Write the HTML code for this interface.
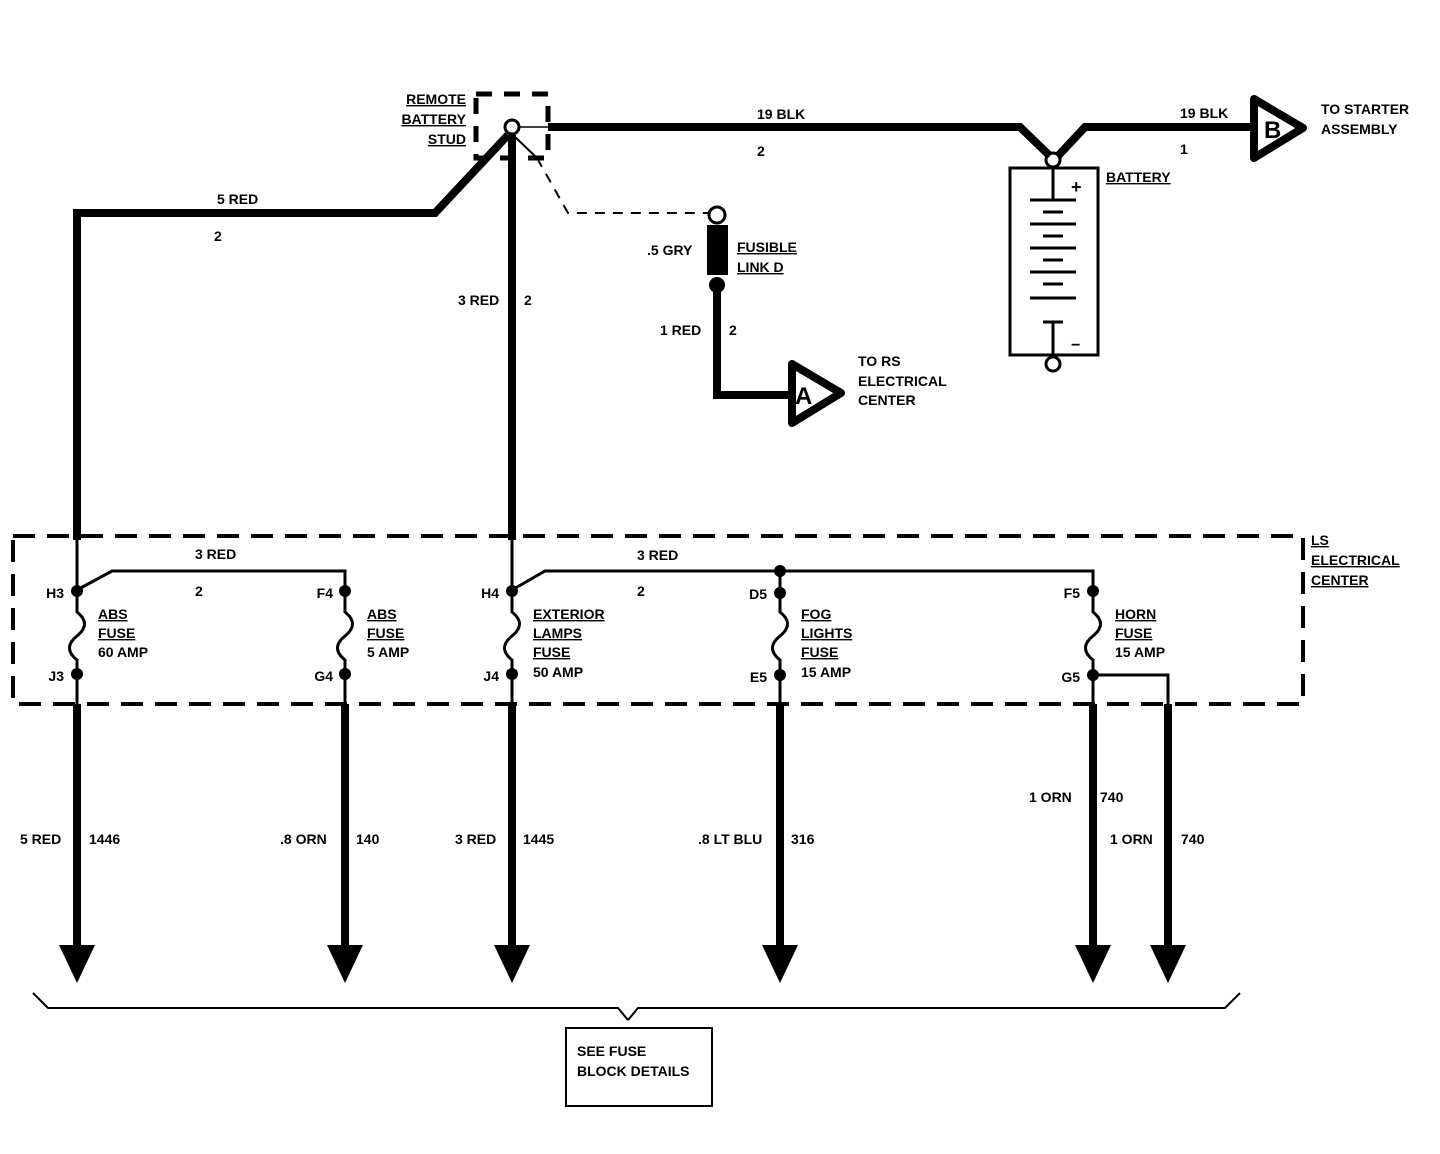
<!DOCTYPE html>
<html><head><style>body{margin:0;background:#fff}svg{display:block}text{font-family:"Liberation Sans",sans-serif;font-weight:bold;font-size:14px;fill:#000}</style></head><body>
<svg width="1440" height="1154" viewBox="0 0 1440 1154" xmlns="http://www.w3.org/2000/svg">
<defs>
<path id="f" d="M0 600 V612 c10 8 10 16 0 24 c-10 8 -10 16 0 24 V704" fill="none" stroke="#000" stroke-width="3"/>
</defs>
<g fill="none" stroke="#000">
<rect x="476" y="94" width="72" height="64" stroke-width="5" stroke-dasharray="16,12"/>
<circle cx="512" cy="127" r="7" stroke-width="3"/>
<line x1="519" y1="127" x2="548" y2="127" stroke-width="1.5"/>
<path d="M548 127 H1020 L1050 156" stroke-width="8"/>
<path d="M1058 156 L1085 127 H1252" stroke-width="8"/>
<polygon points="1254,99 1254,158 1303,128" stroke-width="8" stroke-linejoin="round"/>
<rect x="1010" y="168" width="88" height="187" stroke-width="3"/>
<circle cx="1053" cy="160" r="7" stroke-width="3"/>
<circle cx="1053" cy="364" r="7" stroke-width="3"/>
<line x1="1053" y1="168" x2="1053" y2="200" stroke-width="3"/>
<line x1="1053" y1="322" x2="1053" y2="357" stroke-width="3"/>
<g stroke-width="3">
<line x1="1030" y1="200" x2="1076" y2="200"/><line x1="1043" y1="212" x2="1063" y2="212"/>
<line x1="1030" y1="224" x2="1076" y2="224"/><line x1="1043" y1="236" x2="1063" y2="236"/>
<line x1="1030" y1="248" x2="1076" y2="248"/><line x1="1043" y1="260" x2="1063" y2="260"/>
<line x1="1030" y1="272" x2="1076" y2="272"/><line x1="1043" y1="284" x2="1063" y2="284"/>
<line x1="1030" y1="298" x2="1076" y2="298"/><line x1="1043" y1="322" x2="1063" y2="322"/>
</g>
<path d="M508 135 L435 213 H77 V540" stroke-width="8"/>
<line x1="512" y1="135" x2="512" y2="540" stroke-width="8"/>
<line x1="512" y1="134" x2="537" y2="158" stroke-width="2"/>
<path d="M537 158 L568 213 H708" stroke-width="2" stroke-dasharray="10,8"/>
<circle cx="717" cy="215" r="8" stroke-width="3"/>
<path d="M717 290 V395 H792" stroke-width="8"/>
<polygon points="792,364 792,423 841,393" stroke-width="8" stroke-linejoin="round"/>
<rect x="13" y="536" width="1290" height="168" stroke-width="4" stroke-dasharray="22,12"/>
<g stroke-width="3">
<line x1="77" y1="540" x2="77" y2="600"/>
<path d="M77 590 L112 571 H345 V600"/>
<line x1="512" y1="540" x2="512" y2="600"/>
<path d="M512 590 L545 571 H1093 V600"/>
<line x1="780" y1="571" x2="780" y2="600"/>
<path d="M1093 675 H1168 V704"/>
</g>
<g stroke-width="8">
<line x1="77" y1="704" x2="77" y2="948"/><line x1="345" y1="704" x2="345" y2="948"/>
<line x1="512" y1="704" x2="512" y2="948"/><line x1="780" y1="704" x2="780" y2="948"/>
<line x1="1093" y1="704" x2="1093" y2="948"/><line x1="1168" y1="704" x2="1168" y2="948"/>
</g>
<path d="M33 993 L48 1008 H618 L628 1020 M628 1020 L638 1008 H1225 L1240 993" stroke-width="2"/>
<rect x="566" y="1028" width="146" height="78" stroke-width="2"/>
</g>
<use href="#f" x="77"/><use href="#f" x="345"/><use href="#f" x="512"/><use href="#f" x="780"/><use href="#f" x="1093"/>
<g fill="#000">
<rect x="707" y="225" width="21" height="50"/>
<circle cx="717" cy="285" r="8"/>
<circle cx="77" cy="591" r="6"/><circle cx="77" cy="674" r="6"/>
<circle cx="345" cy="591" r="6"/><circle cx="345" cy="674" r="6"/>
<circle cx="512" cy="591" r="6"/><circle cx="512" cy="674" r="6"/>
<circle cx="780" cy="593" r="6"/><circle cx="780" cy="675" r="6"/><circle cx="780" cy="571" r="6"/>
<circle cx="1093" cy="591" r="6"/><circle cx="1093" cy="675" r="6"/>
<polygon points="59,945 95,945 77,983"/><polygon points="327,945 363,945 345,983"/>
<polygon points="494,945 530,945 512,983"/><polygon points="762,945 798,945 780,983"/>
<polygon points="1075,945 1111,945 1093,983"/><polygon points="1150,945 1186,945 1168,983"/>
</g>
<g>
<text x="466" y="104" text-anchor="end" text-decoration="underline">REMOTE</text>
<text x="466" y="124" text-anchor="end" text-decoration="underline">BATTERY</text>
<text x="466" y="144" text-anchor="end" text-decoration="underline">STUD</text>
<text x="757" y="119">19 BLK</text><text x="757" y="156">2</text>
<text x="1180" y="118">19 BLK</text><text x="1180" y="154">1</text>
<text x="1264" y="138" style="font-size:24px">B</text>
<text x="1321" y="114">TO STARTER</text><text x="1321" y="134">ASSEMBLY</text>
<text x="1106" y="182" text-decoration="underline">BATTERY</text>
<text x="1071" y="193" style="font-size:18px">+</text><text x="1071" y="350" style="font-size:16px">−</text>
<text x="217" y="204">5 RED</text><text x="214" y="241">2</text>
<text x="458" y="305">3 RED</text><text x="524" y="305">2</text>
<text x="647" y="255">.5 GRY</text>
<text x="737" y="252" text-decoration="underline">FUSIBLE</text><text x="737" y="272" text-decoration="underline">LINK D</text>
<text x="660" y="335">1 RED</text><text x="729" y="335">2</text>
<text x="795" y="404" style="font-size:24px">A</text>
<text x="858" y="366">TO RS</text><text x="858" y="386">ELECTRICAL</text><text x="858" y="405">CENTER</text>
<text x="1311" y="545" text-decoration="underline">LS</text><text x="1311" y="565" text-decoration="underline">ELECTRICAL</text><text x="1311" y="585" text-decoration="underline">CENTER</text>
<text x="195" y="559">3 RED</text><text x="195" y="596">2</text>
<text x="637" y="560">3 RED</text><text x="637" y="596">2</text>
<text x="64" y="598" text-anchor="end">H3</text><text x="64" y="681" text-anchor="end">J3</text>
<text x="333" y="598" text-anchor="end">F4</text><text x="333" y="681" text-anchor="end">G4</text>
<text x="499" y="598" text-anchor="end">H4</text><text x="499" y="681" text-anchor="end">J4</text>
<text x="767" y="599" text-anchor="end">D5</text><text x="767" y="682" text-anchor="end">E5</text>
<text x="1080" y="598" text-anchor="end">F5</text><text x="1080" y="682" text-anchor="end">G5</text>
<text x="98" y="619" text-decoration="underline">ABS</text><text x="98" y="638" text-decoration="underline">FUSE</text><text x="98" y="657">60 AMP</text>
<text x="367" y="619" text-decoration="underline">ABS</text><text x="367" y="638" text-decoration="underline">FUSE</text><text x="367" y="657">5 AMP</text>
<text x="533" y="619" text-decoration="underline">EXTERIOR</text><text x="533" y="638" text-decoration="underline">LAMPS</text><text x="533" y="657" text-decoration="underline">FUSE</text><text x="533" y="677">50 AMP</text>
<text x="801" y="619" text-decoration="underline">FOG</text><text x="801" y="638" text-decoration="underline">LIGHTS</text><text x="801" y="657" text-decoration="underline">FUSE</text><text x="801" y="677">15 AMP</text>
<text x="1115" y="619" text-decoration="underline">HORN</text><text x="1115" y="638" text-decoration="underline">FUSE</text><text x="1115" y="657">15 AMP</text>
<text x="20" y="844">5 RED</text><text x="89" y="844">1446</text>
<text x="280" y="844">.8 ORN</text><text x="356" y="844">140</text>
<text x="455" y="844">3 RED</text><text x="523" y="844">1445</text>
<text x="698" y="844">.8 LT BLU</text><text x="791" y="844">316</text>
<text x="1029" y="802">1 ORN</text><text x="1100" y="802">740</text>
<text x="1110" y="844">1 ORN</text><text x="1181" y="844">740</text>
<text x="577" y="1056">SEE FUSE</text><text x="577" y="1076">BLOCK DETAILS</text>
</g>
</svg>
</body></html>
